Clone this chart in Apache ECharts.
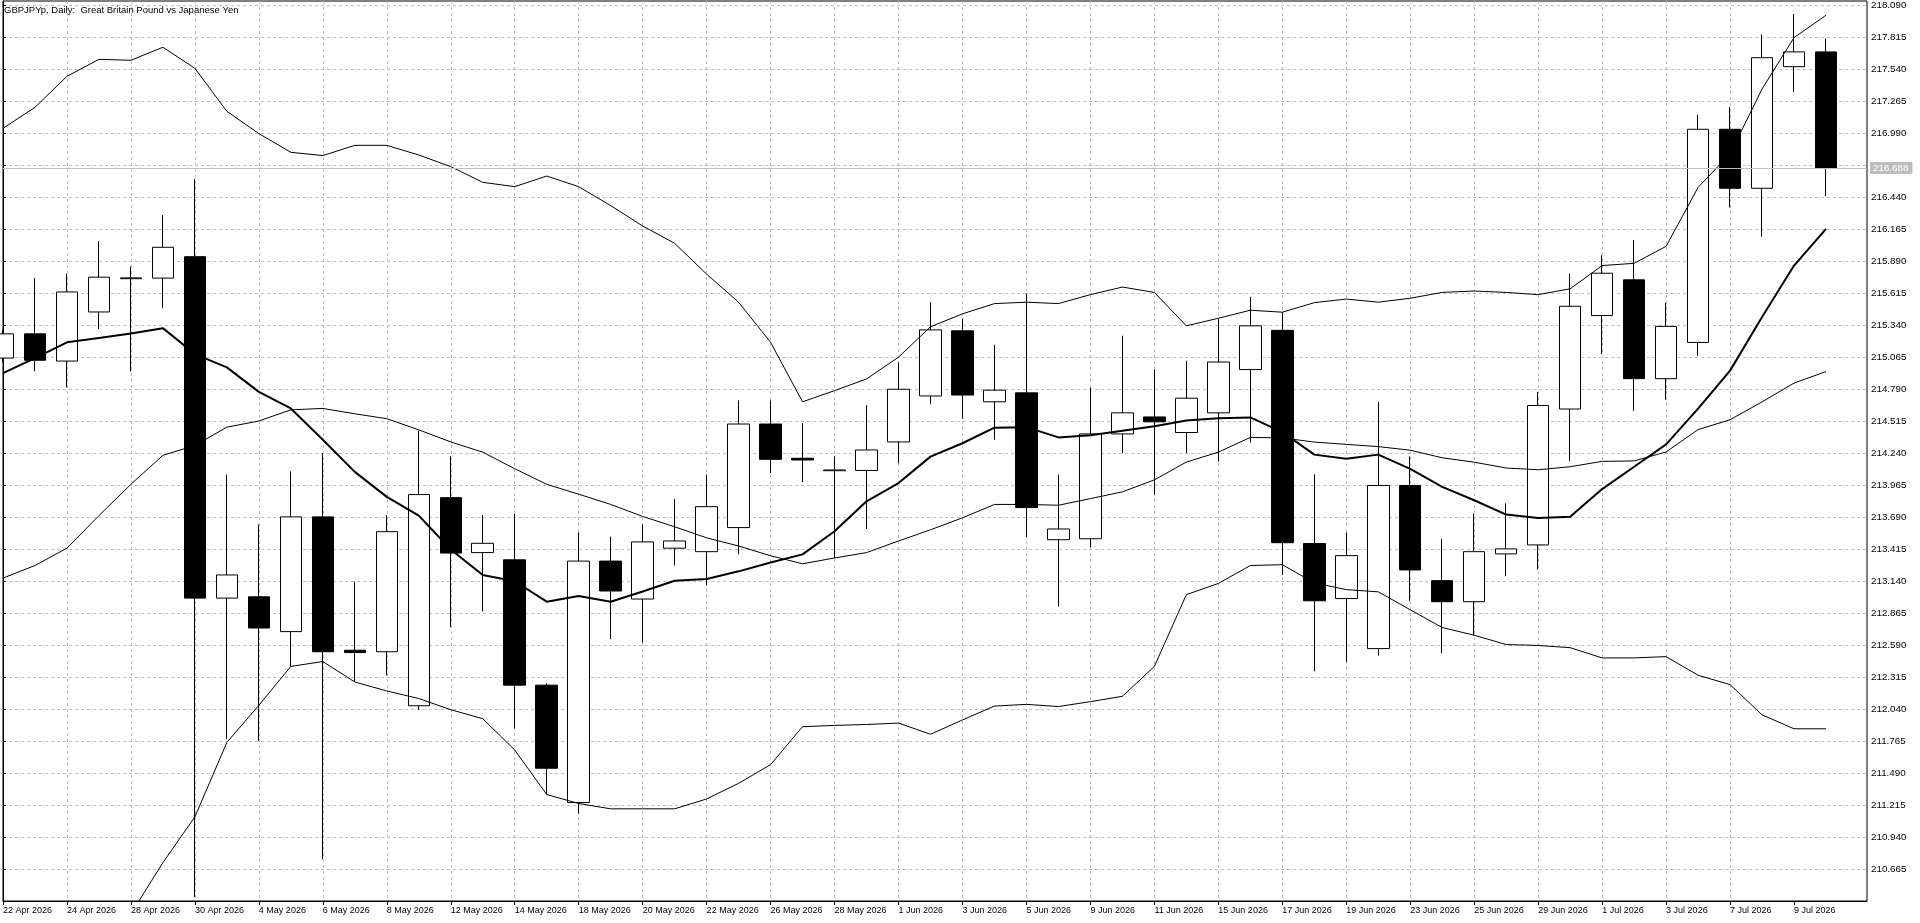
<!DOCTYPE html>
<html>
<head>
<meta charset="utf-8">
<script src="https://cdn.jsdelivr.net/npm/echarts@6/dist/echarts.min.js"></script>
<style>
html,body{margin:0;padding:0;background:#fff;}
#c{width:1920px;height:923px;}
</style>
</head>
<body>
<div id="c"></div>
<script>
const chartTitle = 'GBPJPYp, Daily:  Great Britain Pound vs Japanese Yen';

const dates = ['22 Apr 2026','23 Apr 2026','24 Apr 2026','27 Apr 2026','28 Apr 2026','29 Apr 2026','30 Apr 2026',
  '1 May 2026','4 May 2026','5 May 2026','6 May 2026','7 May 2026','8 May 2026','11 May 2026','12 May 2026','13 May 2026',
  '14 May 2026','15 May 2026','18 May 2026','19 May 2026','20 May 2026','21 May 2026','22 May 2026','25 May 2026',
  '26 May 2026','27 May 2026','28 May 2026','29 May 2026','1 Jun 2026','2 Jun 2026','3 Jun 2026','4 Jun 2026',
  '5 Jun 2026','8 Jun 2026','9 Jun 2026','10 Jun 2026','11 Jun 2026','12 Jun 2026','15 Jun 2026','16 Jun 2026',
  '17 Jun 2026','18 Jun 2026','19 Jun 2026','22 Jun 2026','23 Jun 2026','24 Jun 2026','25 Jun 2026','26 Jun 2026',
  '29 Jun 2026','30 Jun 2026','1 Jul 2026','2 Jul 2026','3 Jul 2026','6 Jul 2026','7 Jul 2026','8 Jul 2026',
  '9 Jul 2026','10 Jul 2026'];

const open = [215.056,215.264,215.030,215.452,215.738,215.743,215.927,212.993,213.004,212.705,
  213.691,212.545,212.532,212.068,213.856,213.384,213.322,212.245,211.236,213.311,
  212.985,213.422,213.392,213.599,214.489,214.195,214.088,214.090,214.335,214.730,
  215.290,214.680,214.757,213.495,213.503,214.404,214.550,214.416,214.585,214.957,
  215.294,213.462,212.989,212.559,213.961,213.143,212.962,213.373,213.450,214.618,
  215.421,215.728,214.879,215.190,217.022,216.515,217.560,217.687];
const close = [215.264,215.037,215.624,215.751,215.745,216.008,212.993,213.192,212.736,213.691,
  212.532,212.525,213.564,213.883,213.380,213.464,212.245,211.531,213.311,213.054,
  213.476,213.484,213.779,214.489,214.186,214.180,214.094,214.266,214.788,215.298,
  214.738,214.780,213.771,213.587,214.404,214.585,214.508,214.711,215.022,215.333,
  213.469,212.970,213.358,213.961,213.235,212.962,213.392,213.416,214.648,215.501,
  215.785,214.879,215.328,217.022,216.515,217.637,217.687,216.688];
const low = [215.020,214.941,214.803,215.306,214.941,215.486,210.423,211.784,211.765,212.406,
  210.749,212.272,212.329,212.034,212.743,212.878,211.873,211.305,211.140,212.640,
  212.609,213.273,213.104,213.369,214.067,213.990,213.338,213.587,214.151,214.661,
  214.535,214.354,213.518,212.920,213.430,214.239,213.883,214.239,214.166,214.331,
  213.190,212.363,212.444,212.498,212.970,212.521,212.674,213.181,213.239,214.172,
  215.090,214.602,214.698,215.075,216.350,216.100,217.341,216.446];
const high = [215.300,215.743,215.781,216.061,215.843,216.284,216.594,214.055,213.626,214.082,
  214.239,213.135,213.706,214.431,214.212,213.706,213.718,212.260,213.557,213.522,
  213.626,213.844,214.055,214.692,214.692,214.496,214.212,214.650,215.018,215.536,
  215.394,215.171,215.613,214.055,214.803,215.248,214.957,215.033,215.390,215.582,
  215.450,214.057,213.558,214.679,214.211,213.500,213.719,213.807,214.764,215.782,
  215.939,216.070,215.532,217.145,217.214,217.837,218.013,217.802];

const bbUpper = [217.030,217.211,217.477,217.623,217.615,217.727,217.546,217.176,216.985,216.824,
  216.796,216.884,216.884,216.801,216.701,216.566,216.529,216.620,216.529,216.366,
  216.191,216.042,215.777,215.536,215.191,214.680,214.776,214.876,215.064,215.325,
  215.436,215.524,215.536,215.524,215.601,215.666,215.620,215.333,215.398,215.467,
  215.450,215.532,215.563,215.536,215.570,215.620,215.632,215.620,215.601,215.651,
  215.851,215.870,216.016,216.523,216.811,217.368,217.810,218.002];
const bbMiddle = [213.165,213.273,213.422,213.702,213.971,214.220,214.305,214.462,214.515,214.611,
  214.623,214.577,214.535,214.439,214.335,214.247,214.105,213.971,213.886,213.798,
  213.695,213.606,213.511,213.441,213.357,213.288,213.338,213.384,213.484,213.580,
  213.683,213.798,213.798,213.791,213.848,213.906,214.009,214.162,214.247,214.374,
  214.370,214.334,214.314,214.295,214.264,214.199,214.161,214.111,214.096,214.122,
  214.168,214.172,214.249,214.441,214.526,214.679,214.841,214.940];
const bbLower = [209.320,209.350,209.380,209.800,210.280,210.720,211.113,211.753,212.072,212.406,
  212.448,212.272,212.195,212.130,212.034,211.957,211.688,211.305,211.228,211.182,
  211.182,211.182,211.267,211.401,211.562,211.888,211.899,211.907,211.919,211.823,
  211.946,212.065,212.080,212.061,212.103,212.149,212.406,213.023,213.119,213.273,
  213.280,213.124,213.066,213.047,212.893,212.740,212.674,212.594,212.586,212.567,
  212.479,212.479,212.490,212.330,212.250,211.990,211.870,211.870];
const maLine = [214.926,215.056,215.191,215.229,215.267,215.313,215.090,214.976,214.765,214.623,
  214.354,214.078,213.863,213.702,213.411,213.192,213.138,212.962,213.012,212.962,
  213.050,213.142,213.158,213.223,213.299,213.369,213.568,213.825,213.982,214.209,
  214.324,214.458,214.462,214.374,214.393,214.431,214.470,214.519,214.539,214.546,
  214.420,214.226,214.191,214.226,214.103,213.949,213.834,213.711,213.681,213.692,
  213.930,214.122,214.314,214.622,214.948,215.409,215.851,216.166];

const currentPrice = 216.688;
const priceAxisMin = 210.390;   // first tick is one step below 210.665
const priceAxisMax = 218.1244;
const priceStep = 0.275;
const labelIndices = dates.map((d, i) => i).filter(i => i % 2 === 0);

const font = 'Liberation Sans';
const chart = echarts.init(document.getElementById('c'), null, {renderer: 'canvas', width: 1920, height: 923});

const candleData = dates.map((d, i) => [i, open[i], close[i], low[i], high[i]]);
const toXY = arr => arr.map((v, i) => [i, v]);
const gridDash = {color: '#c0c0c0', width: 1, type: [3, 3]};

const option = {
  animation: false,
  backgroundColor: '#ffffff',
  title: {
    text: chartTitle, left: 4, top: 5, padding: 0,
    textStyle: {fontFamily: font, fontSize: 9.5, fontWeight: 'normal', color: '#000'}
  },
  grid: {left: 2, top: 1, width: 1865, height: 900, show: true, borderColor: '#000', borderWidth: 1, backgroundColor: '#fff'},
  xAxis: {
    type: 'value', min: 0, max: 1865 / 32, interval: 1,
    axisLine: {show: true, onZero: false, lineStyle: {color: '#000', width: 1}},
    axisTick: {show: true, length: 4, customValues: labelIndices, lineStyle: {color: '#000'}},
    axisLabel: {
      customValues: labelIndices, formatter: v => dates[v] || '', align: 'left', margin: 5,
      fontFamily: font, fontSize: 9, color: '#000', showMinLabel: true, showMaxLabel: true
    },
    splitLine: {show: true, showMinLine: false, showMaxLine: false, lineStyle: gridDash}
  },
  yAxis: {
    type: 'value', position: 'right', min: priceAxisMin, max: priceAxisMax, interval: priceStep,
    axisLine: {show: true, lineStyle: {color: '#000', width: 1}},
    axisTick: {show: true, length: 3, lineStyle: {color: '#000'}},
    axisLabel: {
      formatter: v => v.toFixed(3), showMinLabel: false, showMaxLabel: false, margin: 4,
      fontFamily: font, fontSize: 9.8, color: '#000'
    },
    splitLine: {show: true, showMinLine: false, showMaxLine: false, lineStyle: gridDash}
  },
  series: [
    {
      type: 'line', data: toXY(close), z: 1, silent: true, showSymbol: false, symbol: 'none',
      lineStyle: {opacity: 0},
      markLine: {
        silent: true, symbol: 'none', animation: false,
        data: [{yAxis: currentPrice}],
        lineStyle: {color: '#c0c0c0', width: 1, type: 'solid'},
        label: {
          show: true, position: 'end', distance: 3, formatter: currentPrice.toFixed(3),
          backgroundColor: '#bdbdbd', color: '#fff', padding: [1, 4, 1, 3],
          fontFamily: font, fontSize: 9.8
        }
      }
    },
    {
      type: 'candlestick', data: candleData, z: 2, barWidth: 22,
      itemStyle: {color: '#ffffff', color0: '#000000', borderColor: '#000000', borderColor0: '#000000', borderWidth: 1}
    },
    {type: 'line', data: toXY(bbUpper), z: 3, symbol: 'none', lineStyle: {color: '#000', width: 1}},
    {type: 'line', data: toXY(bbMiddle), z: 3, symbol: 'none', lineStyle: {color: '#000', width: 1}},
    {type: 'line', data: toXY(bbLower), z: 3, symbol: 'none', lineStyle: {color: '#000', width: 1}},
    {type: 'line', data: toXY(maLine), z: 3, symbol: 'none', lineStyle: {color: '#000', width: 2}}
  ]
};
chart.setOption(option);
</script>
</body>
</html>
